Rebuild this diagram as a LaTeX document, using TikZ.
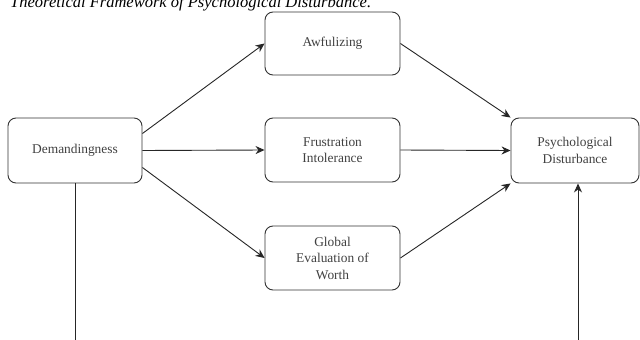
\documentclass[tikz,border=0pt]{standalone}
\usepackage{fontspec}
\setmainfont{Liberation Serif}
\usetikzlibrary{arrows.meta,calc}
\definecolor{boxline}{HTML}{333333}
\definecolor{boxtext}{HTML}{404040}
\begin{document}
\begin{tikzpicture}[x=1pt,y=-1pt,
  fbox/.style={draw=boxline,line width=0.9pt,rounded corners=8pt,fill=white,
    minimum width=135pt,minimum height=64pt,inner sep=0pt,align=center,
    text=boxtext,font=\fontsize{13.4}{16.5}\selectfont},
  conn/.style={draw=black!85,line width=0.9pt},
  arr/.style={conn,-{Stealth[length=9pt,width=8pt]}}]
\useasboundingbox (0,0) rectangle (640,340);
\fill[white] (0,0) rectangle (640,340);
\node[anchor=base west,inner sep=0pt,font=\fontsize{16.5}{18}\selectfont\itshape] (title) at (10,7.5) {Theoretical Framework of Psychological Disturbance.};
\node[fbox,minimum width=134pt,minimum height=65pt] (dem) at (75,150.5) {Demandingness};
\node[fbox,minimum height=63pt] (awf) at (332.5,43.5) {Awfulizing};
\node[fbox] (fru) at (332.5,150) {Frustration\\Intolerance};
\node[fbox] (glo) at (332.5,258) {Global\\Evaluation of\\Worth};
\node[fbox,minimum width=128pt,minimum height=65pt] (psy) at (575,150.5) {Psychological\\Disturbance};
\coordinate (bl) at (75,340);
\coordinate (br) at (578,340);
\draw[arr] ($(dem.east)+(0,-17)$) -- (awf.west);
\draw[arr] (dem.east) -- (fru.west);
\draw[arr] ($(dem.east)+(0,17)$) -- (glo.west);
\draw[arr] (awf.east) -- (psy.north west);
\draw[arr] (fru.east) -- (psy.west);
\draw[arr] (glo.east) -- (psy.south west);
\draw[conn] (dem.south) -- (bl);
\draw[arr] (br) -- (br |- psy.south);
\end{tikzpicture}
\end{document}
